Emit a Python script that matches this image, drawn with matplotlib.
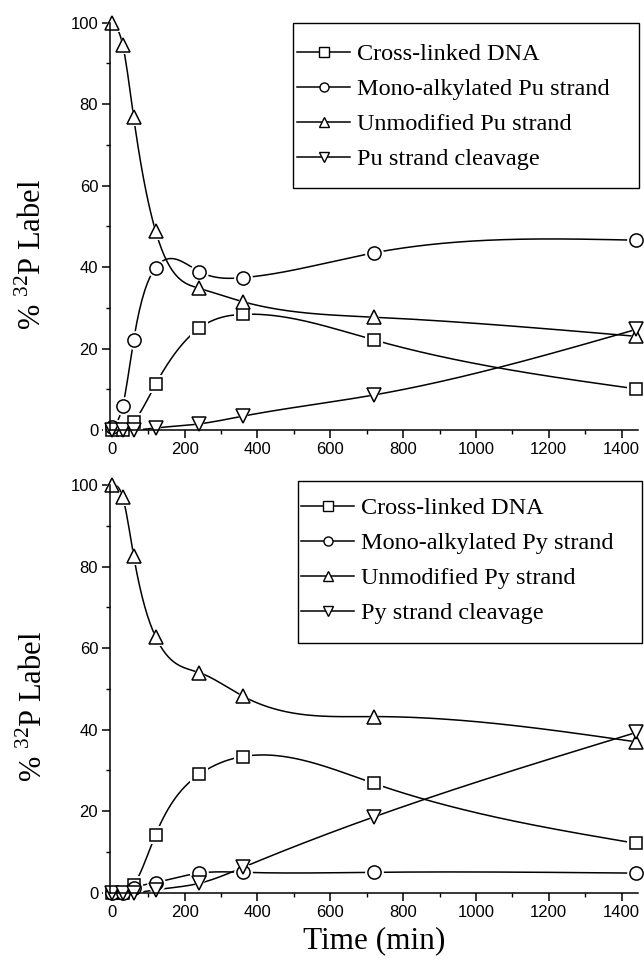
import numpy as np
import matplotlib
matplotlib.use("Agg")
import matplotlib.pyplot as plt
from matplotlib.patches import Rectangle
from matplotlib.lines import Line2D

# ---------------- data ----------------
time_min = [0, 30, 60, 120, 240, 360, 720, 1440]

pu_cross = [0.0, 0.0, 2.0, 11.2, 25.0, 28.4, 22.1, 10.1]
pu_mono = [0.8, 5.9, 22.1, 39.8, 38.9, 37.4, 43.5, 46.6]
pu_unmod = [100.0, 94.5, 76.8, 48.9, 34.8, 31.5, 27.7, 23.0]
pu_cleave = [0.0, 0.0, 0.0, 0.5, 1.5, 3.4, 8.6, 24.7]

py_cross = [0.0, 0.0, 1.9, 14.2, 29.0, 33.4, 26.8, 12.1]
py_mono = [0.0, 0.0, 1.1, 2.5, 4.8, 5.0, 5.0, 4.8]
py_unmod = [100.0, 97.0, 82.6, 62.8, 54.0, 48.2, 43.2, 37.0]
py_cleave = [0.0, 0.0, 0.0, 0.7, 2.3, 6.2, 18.6, 39.3]

labels_pu = ["Cross-linked DNA", "Mono-alkylated Pu strand",
             "Unmodified Pu strand", "Pu strand cleavage"]
labels_py = ["Cross-linked DNA", "Mono-alkylated Py strand",
             "Unmodified Py strand", "Py strand cleavage"]

x_ticks = [0, 200, 400, 600, 800, 1000, 1200, 1400]
y_ticks = [0, 20, 40, 60, 80, 100]

# ---------------- styles ----------------
markers = ["s", "o", "^", "v"]
msizes = [8.5, 9.5, 9.5, 9.5]

W, H = 644, 961
fig = plt.figure(figsize=(W / 100, H / 100), dpi=100)
fig.patch.set_facecolor("white")

SERIF = ["Liberation Serif", "DejaVu Serif"]
SANS = ["Liberation Sans", "DejaVu Sans"]
plt.rcParams["mathtext.fontset"] = "custom"
plt.rcParams["mathtext.rm"] = "Liberation Serif"


def natural_spline(x, y, n=400):
    x = np.asarray(x, float)
    y = np.asarray(y, float)
    N = len(x)
    h = np.diff(x)
    A = np.zeros((N, N))
    r = np.zeros(N)
    A[0, 0] = 1.0
    A[-1, -1] = 1.0
    for i in range(1, N - 1):
        A[i, i - 1] = h[i - 1]
        A[i, i] = 2 * (h[i - 1] + h[i])
        A[i, i + 1] = h[i]
        r[i] = 6 * ((y[i + 1] - y[i]) / h[i] - (y[i] - y[i - 1]) / h[i - 1])
    M = np.linalg.solve(A, r)
    xs = np.linspace(x[0], x[-1], n)
    idx = np.clip(np.searchsorted(x, xs) - 1, 0, N - 2)
    x0, x1 = x[idx], x[idx + 1]
    y0, y1 = y[idx], y[idx + 1]
    m0, m1 = M[idx], M[idx + 1]
    hh = x1 - x0
    s = (m0 * (x1 - xs) ** 3 / (6 * hh) + m1 * (xs - x0) ** 3 / (6 * hh)
         + (y0 / hh - m0 * hh / 6) * (x1 - xs)
         + (y1 / hh - m1 * hh / 6) * (xs - x0))
    return xs, s


def px_rect(left, top, right, bottom):
    return [left / W, 1 - bottom / H, (right - left) / W, (bottom - top) / H]


def draw_panel(rect, series, labels, leg_box, leg_anchor):
    ax = fig.add_axes(rect)
    ax.set_xlim(-5, 1445)
    ax.set_ylim(0, 100)
    for sp in ["top", "right"]:
        ax.spines[sp].set_visible(False)
    for sp in ["left", "bottom"]:
        ax.spines[sp].set_linewidth(1.1)
        ax.spines[sp].set_zorder(6)
    # lines
    for vals in series:
        xs, ys = natural_spline(time_min, vals)
        ax.plot(xs, ys, color="black", lw=1.1, zorder=2, clip_on=False)
    # white halos create the small gaps between line and marker
    for vals, m, ms in zip(series, markers, msizes):
        ax.plot(time_min, vals, ls="none", marker=m, ms=ms + 4,
                mfc="white", mec="white", mew=0, zorder=3, clip_on=False)
    for vals, m, ms in zip(series, markers, msizes):
        ax.plot(time_min, vals, ls="none", marker=m, ms=ms,
                mfc="white", mec="black", mew=1.1, zorder=4, clip_on=False)

    ax.set_xticks(x_ticks)
    ax.set_xticks(np.arange(100, 1500, 200), minor=True)
    ax.set_yticks(y_ticks)
    ax.set_yticks(np.arange(10, 100, 20), minor=True)
    ax.tick_params(which="major", direction="out", length=5.5, width=1.1,
                   labelsize=12, pad=3)
    ax.tick_params(which="minor", direction="out", length=2.8, width=1.0)
    for t in ax.get_xticklabels() + ax.get_yticklabels():
        t.set_fontfamily(SANS)

    # legend
    handles = [Line2D([], [], color="black", lw=1.1, marker=m, ms=6.5,
                      mfc="white", mec="black", mew=1.0)
               for m in markers]
    l, t, r_, b = leg_box
    ax_l, ax_t = leg_anchor
    fig.legend(handles, labels, loc="upper left",
               bbox_to_anchor=(ax_l / W, 1 - ax_t / H),
               frameon=False, borderpad=0, borderaxespad=0,
               handlelength=2.2, handletextpad=0.27, labelspacing=0.54,
               prop={"family": SERIF, "size": 17.5})
    fig.patches.append(Rectangle((l / W, 1 - b / H), (r_ - l) / W, (b - t) / H,
                                 transform=fig.transFigure, fill=False,
                                 edgecolor="black", lw=1.0, zorder=5))
    return ax


ax1 = draw_panel(px_rect(110, 22.7, 638, 430),
                 [pu_cross, pu_mono, pu_unmod, pu_cleave], labels_pu,
                 (293, 23, 639, 188), (297, 43))
ax2 = draw_panel(px_rect(110, 485, 638, 892.7),
                 [py_cross, py_mono, py_unmod, py_cleave], labels_py,
                 (298, 481, 642, 643), (301, 497))

fig.text(33 / W, 1 - 255 / H, r"% $^{32}$P Label", rotation=90,
         ha="center", va="center", fontsize=22, family=SERIF)
fig.text(34 / W, 1 - 707 / H, r"% $^{32}$P Label", rotation=90,
         ha="center", va="center", fontsize=22, family=SERIF)
fig.text(374 / W, 1 - 941 / H, "Time (min)", ha="center", va="center",
         fontsize=22.5, family=SERIF)

fig.savefig("out.png", dpi=100)
